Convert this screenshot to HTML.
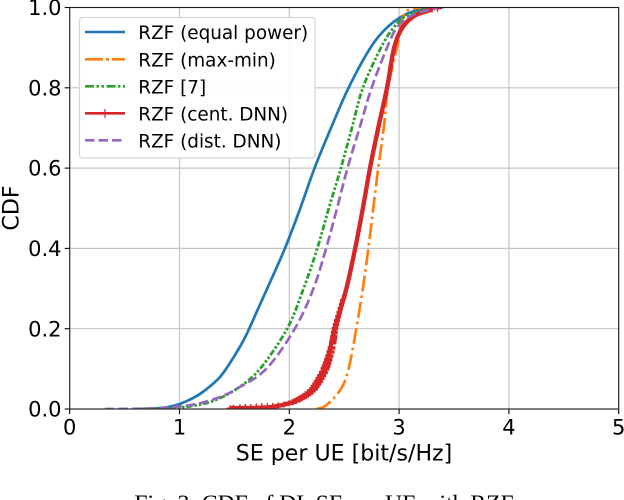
<!DOCTYPE html>
<html lang="en">
<head>
<meta charset="utf-8">
<title>CDF of DL SE per UE with RZF</title>
<style>
html,body{margin:0;padding:0;background:#fff;width:624px;height:500px;overflow:hidden}
svg{display:block}
text{font-family:"DejaVu Sans","Liberation Sans",sans-serif;fill:#000}
</style>
</head>
<body>
<svg id="chart" width="624" height="500" viewBox="0 0 624 500" xmlns="http://www.w3.org/2000/svg">
  <defs><clipPath id="plot-clip"><rect x="69.7" y="7.5" width="549" height="401.5"/></clipPath></defs>
  <g id="grid"></g>
  <g id="series" clip-path="url(#plot-clip)"></g>
  <g id="axes"></g>
  <g>
    <rect x="79.5" y="17.5" width="235.5" height="140.5" rx="3" fill="#fff" fill-opacity="0.9" stroke="#d5d5d5" stroke-width="1.2"/>
    <line x1="85" x2="125" y1="32" y2="32" stroke="#1f77b4" stroke-width="2.6"/>
    <line x1="85" x2="125" y1="59.3" y2="59.3" stroke="#ff7f0e" stroke-width="2.6" stroke-dasharray="18 3 3 3"/>
    <line x1="85" x2="125" y1="86.3" y2="86.3" stroke="#2ca02c" stroke-width="2.6" stroke-dasharray="9 2.5 2.5 2.5 2.5 2.5"/>
    <line x1="85" x2="125" y1="113.3" y2="113.3" stroke="#d62728" stroke-width="2.6"/>
    <line x1="105" x2="105" y1="109" y2="118" stroke="#d62728" stroke-width="1.2"/>
    <line x1="85" x2="125" y1="140.3" y2="140.3" stroke="#9467bd" stroke-width="2.6" stroke-dasharray="9.5 4"/>
    <text x="138.3" y="39" font-size="18.4">RZF (equal power)</text>
    <text x="138.3" y="66.3" font-size="18.4">RZF (max-min)</text>
    <text x="138.3" y="93.3" font-size="18.4">RZF [7]</text>
    <text x="138.3" y="120.3" font-size="18.4">RZF (cent. DNN)</text>
    <text x="138.3" y="147.3" font-size="18.4">RZF (dist. DNN)</text>
  </g>
  <text x="344" y="460.5" font-size="22.1" text-anchor="middle">SE per UE [bit/s/Hz]</text>
  <text transform="translate(18.5,208) rotate(-90)" font-size="22.1" text-anchor="middle">CDF</text>
  <text x="326" y="511" font-size="23.6" text-anchor="middle" style="font-family:'Liberation Serif',serif">Fig. 3: CDF of DL SE per UE with RZF.</text>
</svg>
<script>
var xTickLabels = ["0", "1", "2", "3", "4", "5"];
var yTickLabels = ["0.0", "0.2", "0.4", "0.6", "0.8", "1.0"];

var equalPowerSE  = [0.6, 0.8, 0.9, 1.0, 1.1, 1.215, 1.37, 1.5, 1.6, 1.7, 1.82, 1.96, 2.1, 2.23, 2.38, 2.54, 2.74, 2.89, 3.04, 3.2, 3.4];
var equalPowerCDF = [0, 0.002, 0.005, 0.0125, 0.024, 0.043, 0.08, 0.132, 0.18, 0.24, 0.313, 0.4, 0.5, 0.6, 0.7, 0.8, 0.9, 0.95, 0.98, 0.995, 1];

var maxMinSE  = [2.25, 2.34, 2.47, 2.54, 2.61, 2.67, 2.72, 2.765, 2.81, 2.86, 2.9, 2.98, 3.05, 3.2];
var maxMinCDF = [0, 0.01, 0.05, 0.1, 0.2, 0.3, 0.4, 0.5, 0.6, 0.7, 0.8, 0.9, 0.985, 1];

var ref7SE  = [0.6, 0.9, 1.1, 1.305, 1.52, 1.733, 1.98, 2.13, 2.255, 2.36, 2.47, 2.57, 2.67, 2.835, 2.95, 3.07, 3.3];
var ref7CDF = [0, 0.002, 0.007, 0.02, 0.05, 0.1, 0.2, 0.3, 0.4, 0.5, 0.6, 0.7, 0.8, 0.9, 0.95, 0.98, 1];

var centDnnSE  = [1.46, 1.8, 2.0, 2.08, 2.22, 2.325, 2.415, 2.52, 2.6, 2.67, 2.735, 2.81, 2.89, 2.955, 3.03, 3.145, 3.3];
var centDnnCDF = [0.002, 0.004, 0.014, 0.023, 0.05, 0.1, 0.2, 0.3, 0.4, 0.5, 0.6, 0.7, 0.8, 0.9, 0.95, 0.98, 0.995];

var centDnnMarkerSE  = [1.46, 1.49, 1.55, 1.6, 1.65, 1.7, 1.75, 1.8, 1.85, 1.9, 1.95, 2.0, 2.03, 2.06, 2.08, 2.1, 2.12, 2.14, 2.16, 2.18, 2.2, 2.22, 2.235, 2.25, 2.265, 2.28, 2.295, 2.31, 2.325, 2.335, 2.345, 2.355, 2.365, 2.375, 2.385, 2.395, 2.4, 2.405, 2.41, 2.415, 2.425, 2.435, 2.445, 2.455, 2.465, 2.475, 2.485, 2.5, 3.2, 3.25, 3.3, 3.35];
var centDnnMarkerCDF = [0.002, 0.003, 0.004, 0.005, 0.005, 0.006, 0.007, 0.007, 0.008, 0.009, 0.011, 0.014, 0.017, 0.02, 0.023, 0.026, 0.029, 0.032, 0.036, 0.04, 0.045, 0.05, 0.056, 0.062, 0.069, 0.076, 0.083, 0.091, 0.1, 0.107, 0.115, 0.123, 0.132, 0.142, 0.152, 0.165, 0.172, 0.18, 0.19, 0.2, 0.21, 0.22, 0.23, 0.24, 0.25, 0.26, 0.27, 0.28, 0.988, 0.992, 0.995, 0.997];

var distDnnSE  = [0.32, 0.7, 0.95, 1.15, 1.35, 1.52, 1.79, 2.05, 2.22, 2.335, 2.435, 2.53, 2.64, 2.75, 2.89, 2.98, 3.11, 3.35];
var distDnnCDF = [0, 0.001, 0.005, 0.012, 0.028, 0.05, 0.1, 0.2, 0.3, 0.4, 0.5, 0.6, 0.7, 0.8, 0.9, 0.95, 0.98, 1];

var NS = "http://www.w3.org/2000/svg";
function xScale(v) { return 69.7 + 109.8 * v; }
function yScale(v) { return 409 - 401.5 * v; }

function make(parent, tag, attrs) {
  var el = document.createElementNS(NS, tag);
  for (var k in attrs) el.setAttribute(k, attrs[k]);
  parent.appendChild(el);
  return el;
}

var gridG = document.getElementById("grid");
var axesG = document.getElementById("axes");
var seriesG = document.getElementById("series");

xTickLabels.forEach(function (label) {
  var px = xScale(parseFloat(label));
  var g = make(gridG, "line", {x1: px, x2: px, y1: yScale(0), y2: yScale(1), stroke: "#c4c4c4", "stroke-width": 1.2});
  
  
  var t = make(axesG, "line", {x1: px, x2: px, y1: yScale(0), y2: yScale(0) + 5, stroke: "#000", "stroke-width": 1.1});
  
  
  var txt = make(axesG, "text", {x: px, y: 434.5, "font-size": 21, "text-anchor": "middle"});
  
  
  txt.textContent = label;
});

yTickLabels.forEach(function (label) {
  var py = yScale(parseFloat(label));
  var g = make(gridG, "line", {x1: xScale(0), x2: xScale(5), y1: py, y2: py, stroke: "#c4c4c4", "stroke-width": 1.2});
  
  
  var t = make(axesG, "line", {x1: xScale(0) - 5, x2: xScale(0), y1: py, y2: py, stroke: "#000", "stroke-width": 1.1});
  
  
  var txt = make(axesG, "text", {x: 61.5, y: py + 7.6, "font-size": 21, "text-anchor": "end"});
  
  
  txt.textContent = label;
});

function pathFrom(xs, ys) {
  var pts = xs.map(function (v, i) { return [xScale(v), yScale(ys[i])]; });
  var d = "M" + pts[0][0].toFixed(2) + " " + pts[0][1].toFixed(2);
  for (var i = 0; i < pts.length - 1; i++) {
    var p0 = pts[Math.max(i - 1, 0)], p1 = pts[i], p2 = pts[i + 1], p3 = pts[Math.min(i + 2, pts.length - 1)];
    d += "C" + (p1[0] + (p2[0] - p0[0]) / 6).toFixed(2) + " " + (p1[1] + (p2[1] - p0[1]) / 6).toFixed(2) +
         " " + (p2[0] - (p3[0] - p1[0]) / 6).toFixed(2) + " " + (p2[1] - (p3[1] - p1[1]) / 6).toFixed(2) +
         " " + p2[0].toFixed(2) + " " + p2[1].toFixed(2);
  }
  return d;
}

var p1 = make(seriesG, "path", {d: pathFrom(equalPowerSE, equalPowerCDF), fill: "none", stroke: "#1f77b4", "stroke-width": 2.7, "stroke-linejoin": "round"});



var p2 = make(seriesG, "path", {d: pathFrom(maxMinSE, maxMinCDF), fill: "none", stroke: "#ff7f0e", "stroke-width": 2.7, "stroke-dasharray": "16 4 2.5 4"});



var p3 = make(seriesG, "path", {d: pathFrom(ref7SE, ref7CDF), fill: "none", stroke: "#2ca02c", "stroke-width": 2.8, "stroke-dasharray": "6 2 2.5 2 2.5 2"});



var p4 = make(seriesG, "path", {d: pathFrom(centDnnSE, centDnnCDF), fill: "none", stroke: "#d62728", "stroke-width": 4.4, "stroke-linejoin": "round"});



centDnnMarkerSE.forEach(function (v, i) {
  var c = centDnnMarkerCDF[i];
  var px = xScale(v), py = yScale(c);
  var inBand = c > 0.012 && c < 0.5;
  var half = !inBand ? 3.5 : (c < 0.1 ? 4.5 : 4.5 - (c - 0.1) * 12);
  var rise = inBand ? 1.7 : 3;
  var arm = make(seriesG, "path", {
    d: "M" + (px - half).toFixed(2) + " " + py.toFixed(2) + "H" + (px + half).toFixed(2),
    fill: "none", stroke: "#d62728", "stroke-width": inBand ? 3.4 : 1.4
  });
  
  
  var stem = make(seriesG, "path", {
    d: "M" + px.toFixed(2) + " " + (py - rise).toFixed(2) + "V" + (py + rise).toFixed(2),
    fill: "none", stroke: "#d62728", "stroke-width": 1.4
  });
  
  
});

var p5 = make(seriesG, "path", {d: pathFrom(distDnnSE, distDnnCDF), fill: "none", stroke: "#9467bd", "stroke-width": 2.7, "stroke-dasharray": "9.5 4"});



var frame = make(axesG, "rect", {x: xScale(0), y: yScale(1), width: xScale(5) - xScale(0), height: yScale(0) - yScale(1), fill: "none", stroke: "#222", "stroke-width": 1.1});


</script>
</body>
</html>
